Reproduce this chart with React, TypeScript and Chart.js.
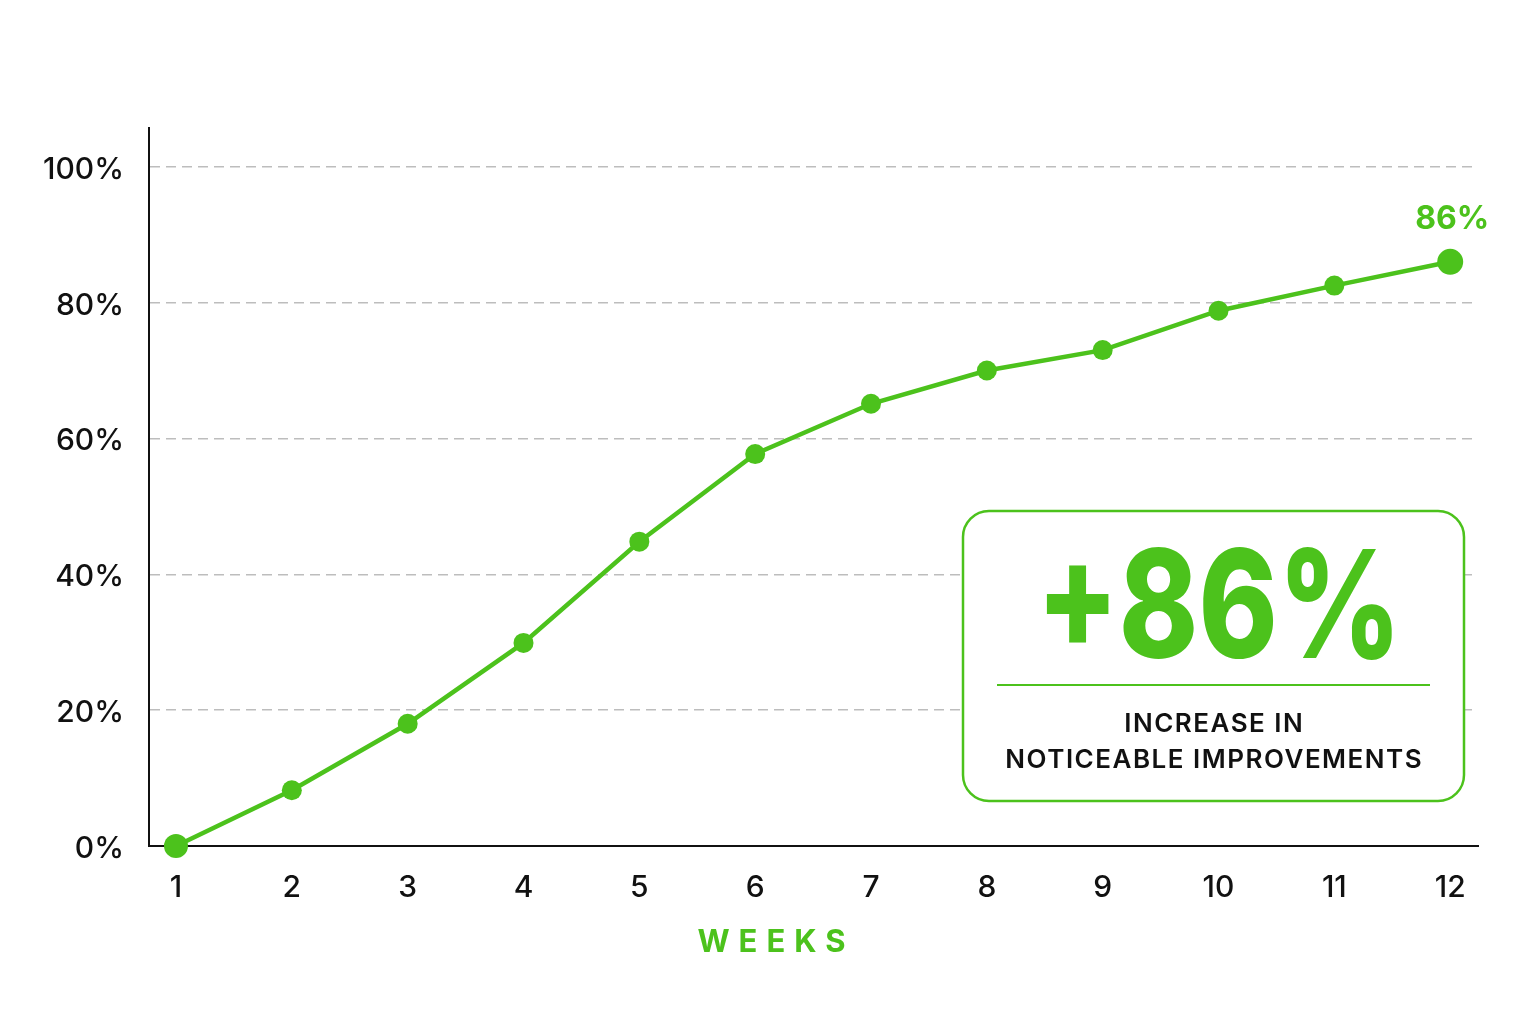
import React, { useEffect, useRef } from "react";
import { Chart, registerables } from "chart.js";

Chart.register(...registerables);

// ---- data ----
const weeks = [1, 2, 3, 4, 5, 6, 7, 8, 9, 10, 11, 12];
const improvement = [0, 8.2, 18, 29.9, 44.8, 57.7, 65.1, 70, 73, 78.8, 82.5, 86];
const yTicks = [0, 20, 40, 60, 80, 100];
const xAxisTitle = "WEEKS";
const calloutLines = ["INCREASE IN", "NOTICEABLE IMPROVEMENTS"];

const GREEN = "#4cc21c";
const INK = "#111111";
const FONT = "Inter, 'Noto Sans', sans-serif";

const overlayPlugin = {
  id: "overlay",
  beforeDatasetsDraw(chart: any) {
    const ctx = chart.ctx as CanvasRenderingContext2D;
    const last = improvement[improvement.length - 1];
    const x0 = 963, y0 = 511, w = 501, h = 290, r = 26;
    const cx = x0 + w / 2;
    ctx.save();
    ctx.beginPath();
    (ctx as any).roundRect(x0, y0, w, h, r);
    ctx.fillStyle = "#ffffff";
    ctx.fill();
    ctx.lineWidth = 2.5;
    ctx.strokeStyle = GREEN;
    ctx.stroke();

    // big headline number, slightly condensed
    ctx.save();
    ctx.translate(1219, 658);
    ctx.scale(0.8, 1);
    ctx.fillStyle = GREEN;
    ctx.font = `800 150px ${FONT}`;
    ctx.textAlign = "center";
    ctx.textBaseline = "alphabetic";
    ctx.fillText(`+${last}%`, 0, 0);
    ctx.restore();

    ctx.beginPath();
    ctx.moveTo(997, 685);
    ctx.lineTo(1430, 685);
    ctx.lineWidth = 2;
    ctx.strokeStyle = GREEN;
    ctx.stroke();

    ctx.fillStyle = INK;
    ctx.font = `600 26px ${FONT}`;
    (ctx as any).letterSpacing = "1.5px";
    ctx.textAlign = "center";
    ctx.textBaseline = "middle";
    ctx.fillText(calloutLines[0], cx + 0.75, 724);
    ctx.fillText(calloutLines[1], cx + 0.75, 760);
    ctx.restore();
  },
  afterDatasetsDraw(chart: any) {
    const ctx = chart.ctx as CanvasRenderingContext2D;
    const last = improvement[improvement.length - 1];
    const meta = chart.getDatasetMeta(0);
    const p = meta.data[meta.data.length - 1];
    ctx.save();
    ctx.fillStyle = GREEN;
    ctx.font = `700 32px ${FONT}`;
    ctx.textAlign = "center";
    ctx.textBaseline = "alphabetic";
    ctx.fillText(`${last}%`, p.x + 2, p.y - 33);

    ctx.font = `700 31px ${FONT}`;
    (ctx as any).letterSpacing = "9px";
    ctx.fillText(xAxisTitle, 771.5 + 4.5, 952);
    ctx.restore();
  },
};

export default function App() {
  const canvasRef = useRef<HTMLCanvasElement | null>(null);

  useEffect(() => {
    document.body.style.margin = "0";
    const canvas = canvasRef.current;
    if (!canvas) return;
    const points = weeks.map((w, i) => ({ x: w, y: improvement[i] }));
    const n = points.length;
    const chart = new Chart(canvas, {
      type: "line",
      data: {
        datasets: [
          {
            data: points,
            borderColor: GREEN,
            backgroundColor: GREEN,
            borderWidth: 4.5,
            pointBackgroundColor: GREEN,
            pointBorderColor: GREEN,
            pointBorderWidth: 0,
            pointRadius: (c: any) => (c.dataIndex === 0 ? 12 : c.dataIndex === n - 1 ? 13 : 10),
            tension: 0,
            clip: false as any,
          },
        ],
      },
      options: {
        animation: false,
        responsive: true,
        maintainAspectRatio: false,
        layout: { padding: { left: 0, top: 128, right: 58, bottom: 0 } },
        plugins: {
          legend: { display: false },
          tooltip: { enabled: false },
          title: { display: false },
        },
        scales: {
          x: {
            type: "linear",
            min: 0.767,
            max: 12.24,
            afterBuildTicks: (scale: any) => {
              scale.ticks = weeks.map((v) => ({ value: v }));
            },
            afterFit: (scale: any) => {
              scale.height = 178;
            },
            grid: { display: false, drawTicks: false },
            border: { display: true, color: INK, width: 2 },
            ticks: {
              padding: 24,
              color: INK,
              font: { family: FONT, size: 30, weight: "500" as any },
              callback: (v: any) => String(v),
            },
          },
          y: {
            type: "linear",
            min: 0,
            max: 105.7,
            afterBuildTicks: (scale: any) => {
              scale.ticks = yTicks.map((v) => ({ value: v }));
            },
            afterFit: (scale: any) => {
              scale.width = 149;
            },
            grid: {
              drawTicks: false,
              lineWidth: 1.5,
              color: (c: any) => (c.tick && c.tick.value === 0 ? "rgba(0,0,0,0)" : "#bdbdbd"),
            },
            border: { display: true, color: INK, width: 2, dash: [10, 6] },
            ticks: {
              padding: 25,
              labelOffset: 3,
              color: INK,
              font: { family: FONT, size: 30, weight: "500" as any },
              callback: (v: any) => `${v}%`,
            },
          },
        },
      },
      plugins: [overlayPlugin],
    });
    return () => chart.destroy();
  }, []);

  return (
    <div style={{ position: "absolute", left: 0, top: 0, width: 1536, height: 1024, background: "#ffffff" }}>
      <canvas ref={canvasRef} />
    </div>
  );
}
